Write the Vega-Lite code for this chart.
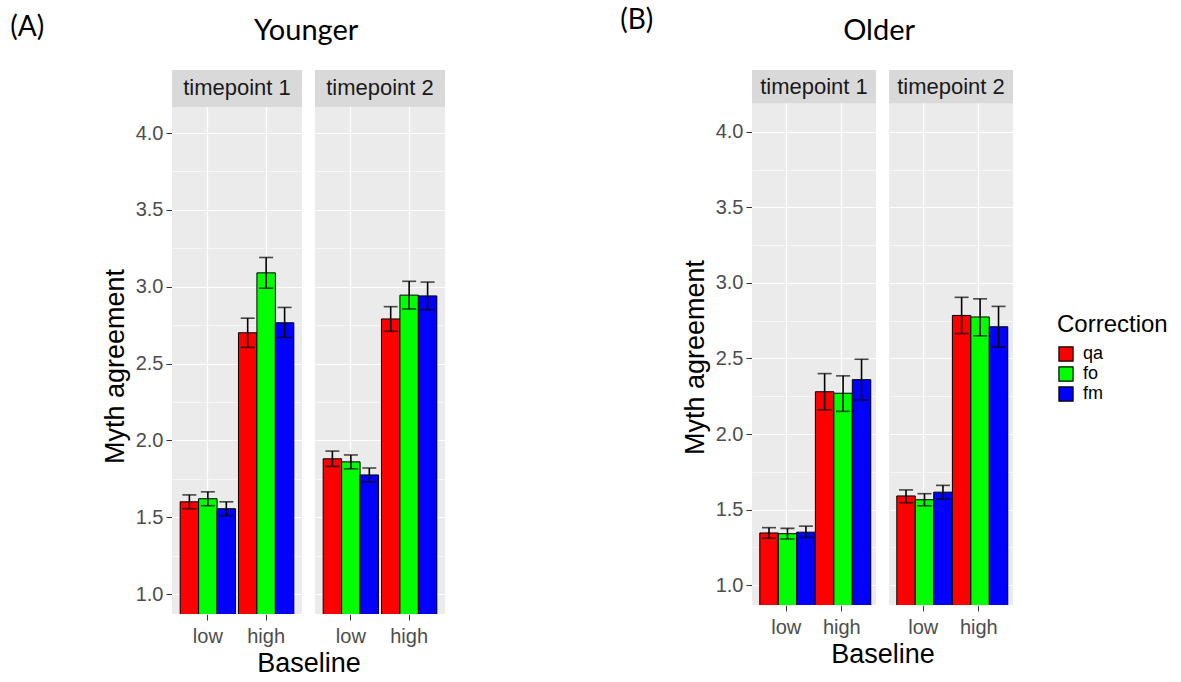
{
  "$schema": "https://vega.github.io/schema/vega-lite/v6.json",
  "config": {
    "font": "Liberation Sans",
    "view": {"fill": "#EBEBEB", "stroke": null},
    "concat": {"spacing": 175},
    "facet": {"spacing": 13}
  },
  "data": {"values": [
    {"age": "Younger", "timepoint": "timepoint 1", "Baseline": "low", "Correction": "qa", "mean": 1.60, "lo": 1.555, "hi": 1.645},
    {"age": "Younger", "timepoint": "timepoint 1", "Baseline": "low", "Correction": "fo", "mean": 1.62, "lo": 1.575, "hi": 1.665},
    {"age": "Younger", "timepoint": "timepoint 1", "Baseline": "low", "Correction": "fm", "mean": 1.555, "lo": 1.51, "hi": 1.60},
    {"age": "Younger", "timepoint": "timepoint 1", "Baseline": "high", "Correction": "qa", "mean": 2.70, "lo": 2.605, "hi": 2.795},
    {"age": "Younger", "timepoint": "timepoint 1", "Baseline": "high", "Correction": "fo", "mean": 3.09, "lo": 2.99, "hi": 3.19},
    {"age": "Younger", "timepoint": "timepoint 1", "Baseline": "high", "Correction": "fm", "mean": 2.765, "lo": 2.67, "hi": 2.865},
    {"age": "Younger", "timepoint": "timepoint 2", "Baseline": "low", "Correction": "qa", "mean": 1.88, "lo": 1.83, "hi": 1.93},
    {"age": "Younger", "timepoint": "timepoint 2", "Baseline": "low", "Correction": "fo", "mean": 1.86, "lo": 1.815, "hi": 1.905},
    {"age": "Younger", "timepoint": "timepoint 2", "Baseline": "low", "Correction": "fm", "mean": 1.775, "lo": 1.73, "hi": 1.82},
    {"age": "Younger", "timepoint": "timepoint 2", "Baseline": "high", "Correction": "qa", "mean": 2.79, "lo": 2.71, "hi": 2.87},
    {"age": "Younger", "timepoint": "timepoint 2", "Baseline": "high", "Correction": "fo", "mean": 2.945, "lo": 2.855, "hi": 3.035},
    {"age": "Younger", "timepoint": "timepoint 2", "Baseline": "high", "Correction": "fm", "mean": 2.94, "lo": 2.85, "hi": 3.03},
    {"age": "Older", "timepoint": "timepoint 1", "Baseline": "low", "Correction": "qa", "mean": 1.345, "lo": 1.31, "hi": 1.38},
    {"age": "Older", "timepoint": "timepoint 1", "Baseline": "low", "Correction": "fo", "mean": 1.34, "lo": 1.305, "hi": 1.375},
    {"age": "Older", "timepoint": "timepoint 1", "Baseline": "low", "Correction": "fm", "mean": 1.35, "lo": 1.315, "hi": 1.39},
    {"age": "Older", "timepoint": "timepoint 1", "Baseline": "high", "Correction": "qa", "mean": 2.28, "lo": 2.16, "hi": 2.40},
    {"age": "Older", "timepoint": "timepoint 1", "Baseline": "high", "Correction": "fo", "mean": 2.27, "lo": 2.15, "hi": 2.385},
    {"age": "Older", "timepoint": "timepoint 1", "Baseline": "high", "Correction": "fm", "mean": 2.36, "lo": 2.225, "hi": 2.495},
    {"age": "Older", "timepoint": "timepoint 2", "Baseline": "low", "Correction": "qa", "mean": 1.59, "lo": 1.545, "hi": 1.63},
    {"age": "Older", "timepoint": "timepoint 2", "Baseline": "low", "Correction": "fo", "mean": 1.565, "lo": 1.525, "hi": 1.605},
    {"age": "Older", "timepoint": "timepoint 2", "Baseline": "low", "Correction": "fm", "mean": 1.615, "lo": 1.57, "hi": 1.66},
    {"age": "Older", "timepoint": "timepoint 2", "Baseline": "high", "Correction": "qa", "mean": 2.785, "lo": 2.665, "hi": 2.905},
    {"age": "Older", "timepoint": "timepoint 2", "Baseline": "high", "Correction": "fo", "mean": 2.775, "lo": 2.65, "hi": 2.895},
    {"age": "Older", "timepoint": "timepoint 2", "Baseline": "high", "Correction": "fm", "mean": 2.71, "lo": 2.575, "hi": 2.845}
  ]},
  "hconcat": [
    {
      "title": {"text": "(A)", "anchor": "start", "frame": "bounds", "font": "Lato", "fontSize": 28, "fontWeight": "normal", "color": "black", "dx": -91, "dy": 25, "offset": 0},
      "vconcat": [
        {
          "title": {"text": "Younger", "anchor": "middle", "frame": "bounds", "font": "Lato", "fontSize": 29, "fontWeight": "normal", "color": "black", "offset": 24, "dx": 33},
          "transform": [{"filter": "datum.age == 'Younger'"}],
          "facet": {"column": {"field": "timepoint", "type": "nominal", "header": {"title": "Baseline", "titleOrient": "bottom", "labels": false, "titleFontSize": 27, "titleFontWeight": "normal", "titleColor": "black", "titlePadding": -5}}},
          "spec": {
            "width": 130,
            "height": 544,
            "layer": [
              {
                "transform": [{"filter": "datum.Baseline == 'low' && datum.Correction == 'qa'"}],
                "mark": {"type": "rect", "color": "#D9D9D9"},
                "encoding": {
                  "y": {"datum": 4.17, "type": "quantitative", "scale": {"domain": [0.87, 4.41], "nice": false, "zero": false}, "title": "Myth agreement"},
                  "y2": {"datum": 4.41}
                }
              },
              {
                "transform": [{"filter": "datum.Baseline == 'low' && datum.Correction == 'qa'"}],
                "mark": {"type": "text", "fontSize": 22, "color": "#1A1A1A"},
                "encoding": {
                  "y": {"datum": 4.29, "type": "quantitative", "title": "Myth agreement"},
                  "text": {"field": "timepoint"}
                }
              },
              {
                "mark": {"type": "bar", "stroke": "black", "strokeWidth": 1, "clip": true},
                "encoding": {
                  "x": {"field": "Baseline", "type": "nominal", "sort": ["low", "high"], "scale": {"paddingInner": 0.05, "paddingOuter": 0.14},
                    "axis": {"bandPosition": 0.5, "grid": true, "gridColor": "white", "gridWidth": 1.2, "domain": false, "tickColor": "#333333", "tickSize": 6, "labelAngle": 0, "labelFontSize": 20, "labelColor": "#4D4D4D", "labelPadding": 6, "title": null}},
                  "xOffset": {"field": "Correction", "type": "nominal", "sort": ["qa", "fo", "fm"], "scale": {"paddingInner": 0, "paddingOuter": 0}},
                  "y": {"field": "mean", "type": "quantitative", "title": "Myth agreement",
                    "axis": {"values": [1, 1.25, 1.5, 1.75, 2, 2.25, 2.5, 2.75, 3, 3.25, 3.5, 3.75, 4],
                      "labelExpr": "datum.value % 0.5 == 0 ? format(datum.value, '.1f') : ''",
                      "grid": true, "gridColor": "white",
                      "gridWidth": {"condition": {"test": "datum.value % 0.5 != 0", "value": 0.6}, "value": 1.2},
                      "tickOpacity": {"condition": {"test": "datum.value % 0.5 != 0", "value": 0}, "value": 1},
                      "domain": false, "tickColor": "#333333", "tickSize": 6, "labelFontSize": 20, "labelColor": "#4D4D4D", "labelPadding": 3,
                      "titleFontSize": 27, "titleFontWeight": "normal", "titleColor": "black", "titlePadding": 6, "titleY": 296}},
                  "color": {"field": "Correction", "type": "nominal", "sort": ["qa", "fo", "fm"],
                    "scale": {"domain": ["qa", "fo", "fm"], "range": ["#FF0000", "#00FF00", "#0000FF"]},
                    "legend": {"title": "Correction", "orient": "none", "legendX": 885, "legendY": 243, "titleFontSize": 24, "titleFontWeight": "normal", "titleColor": "black", "titlePadding": 8, "labelFontSize": 18, "labelColor": "black", "symbolType": "square", "symbolSize": 200, "symbolStrokeColor": "black", "symbolStrokeWidth": 1.2, "symbolOpacity": 1, "rowPadding": 0, "labelOffset": 8}}
                }
              },
              {
                "mark": {"type": "rule", "color": "black", "strokeWidth": 1.6},
                "encoding": {
                  "x": {"field": "Baseline", "type": "nominal", "sort": ["low", "high"]},
                  "xOffset": {"field": "Correction", "type": "nominal", "sort": ["qa", "fo", "fm"]},
                  "y": {"field": "lo", "type": "quantitative", "title": "Myth agreement"},
                  "y2": {"field": "hi"}
                }
              },
              {
                "mark": {"type": "tick", "color": "black", "thickness": 1.6, "size": 14},
                "encoding": {
                  "x": {"field": "Baseline", "type": "nominal", "sort": ["low", "high"]},
                  "xOffset": {"field": "Correction", "type": "nominal", "sort": ["qa", "fo", "fm"]},
                  "y": {"field": "lo", "type": "quantitative", "title": "Myth agreement"}
                }
              },
              {
                "mark": {"type": "tick", "color": "black", "thickness": 1.6, "size": 14},
                "encoding": {
                  "x": {"field": "Baseline", "type": "nominal", "sort": ["low", "high"]},
                  "xOffset": {"field": "Correction", "type": "nominal", "sort": ["qa", "fo", "fm"]},
                  "y": {"field": "hi", "type": "quantitative", "title": "Myth agreement"}
                }
              }
            ]
          }
        }
      ]
    },
    {
      "title": {"text": "(B)", "anchor": "start", "frame": "bounds", "font": "Lato", "fontSize": 28, "fontWeight": "normal", "color": "black", "dx": -61, "dy": 18, "offset": 0},
      "vconcat": [
        {
          "title": {"text": "Older", "anchor": "middle", "frame": "bounds", "font": "Lato", "fontSize": 29, "fontWeight": "normal", "color": "black", "offset": 24, "dx": 32},
          "transform": [{"filter": "datum.age == 'Older'"}],
          "facet": {"column": {"field": "timepoint", "type": "nominal", "header": {"title": "Baseline", "titleOrient": "bottom", "labels": false, "titleFontSize": 27, "titleFontWeight": "normal", "titleColor": "black", "titlePadding": -5}}},
          "spec": {
            "width": 124,
            "height": 535,
            "layer": [
              {
                "transform": [{"filter": "datum.Baseline == 'low' && datum.Correction == 'qa'"}],
                "mark": {"type": "rect", "color": "#D9D9D9"},
                "encoding": {
                  "y": {"datum": 4.19, "type": "quantitative", "scale": {"domain": [0.868, 4.41], "nice": false, "zero": false}, "title": "Myth agreement"},
                  "y2": {"datum": 4.41}
                }
              },
              {
                "transform": [{"filter": "datum.Baseline == 'low' && datum.Correction == 'qa'"}],
                "mark": {"type": "text", "fontSize": 22, "color": "#1A1A1A"},
                "encoding": {
                  "y": {"datum": 4.30, "type": "quantitative", "title": "Myth agreement"},
                  "text": {"field": "timepoint"}
                }
              },
              {
                "mark": {"type": "bar", "stroke": "black", "strokeWidth": 1, "clip": true},
                "encoding": {
                  "x": {"field": "Baseline", "type": "nominal", "sort": ["low", "high"], "scale": {"paddingInner": 0.05, "paddingOuter": 0.14},
                    "axis": {"bandPosition": 0.5, "grid": true, "gridColor": "white", "gridWidth": 1.2, "domain": false, "tickColor": "#333333", "tickSize": 6, "labelAngle": 0, "labelFontSize": 20, "labelColor": "#4D4D4D", "labelPadding": 6, "title": null}},
                  "xOffset": {"field": "Correction", "type": "nominal", "sort": ["qa", "fo", "fm"], "scale": {"paddingInner": 0, "paddingOuter": 0}},
                  "y": {"field": "mean", "type": "quantitative", "title": "Myth agreement",
                    "axis": {"values": [1, 1.25, 1.5, 1.75, 2, 2.25, 2.5, 2.75, 3, 3.25, 3.5, 3.75, 4],
                      "labelExpr": "datum.value % 0.5 == 0 ? format(datum.value, '.1f') : ''",
                      "grid": true, "gridColor": "white",
                      "gridWidth": {"condition": {"test": "datum.value % 0.5 != 0", "value": 0.6}, "value": 1.2},
                      "tickOpacity": {"condition": {"test": "datum.value % 0.5 != 0", "value": 0}, "value": 1},
                      "domain": false, "tickColor": "#333333", "tickSize": 6, "labelFontSize": 20, "labelColor": "#4D4D4D", "labelPadding": 3,
                      "titleFontSize": 27, "titleFontWeight": "normal", "titleColor": "black", "titlePadding": 6, "titleY": 287}},
                  "color": {"field": "Correction", "type": "nominal", "sort": ["qa", "fo", "fm"],
                    "scale": {"domain": ["qa", "fo", "fm"], "range": ["#FF0000", "#00FF00", "#0000FF"]},
                    "legend": {"title": "Correction", "orient": "none", "legendX": 885, "legendY": 243, "titleFontSize": 24, "titleFontWeight": "normal", "titleColor": "black", "titlePadding": 8, "labelFontSize": 18, "labelColor": "black", "symbolType": "square", "symbolSize": 200, "symbolStrokeColor": "black", "symbolStrokeWidth": 1.2, "symbolOpacity": 1, "rowPadding": 0, "labelOffset": 8}}
                }
              },
              {
                "mark": {"type": "rule", "color": "black", "strokeWidth": 1.6},
                "encoding": {
                  "x": {"field": "Baseline", "type": "nominal", "sort": ["low", "high"]},
                  "xOffset": {"field": "Correction", "type": "nominal", "sort": ["qa", "fo", "fm"]},
                  "y": {"field": "lo", "type": "quantitative", "title": "Myth agreement"},
                  "y2": {"field": "hi"}
                }
              },
              {
                "mark": {"type": "tick", "color": "black", "thickness": 1.6, "size": 14},
                "encoding": {
                  "x": {"field": "Baseline", "type": "nominal", "sort": ["low", "high"]},
                  "xOffset": {"field": "Correction", "type": "nominal", "sort": ["qa", "fo", "fm"]},
                  "y": {"field": "lo", "type": "quantitative", "title": "Myth agreement"}
                }
              },
              {
                "mark": {"type": "tick", "color": "black", "thickness": 1.6, "size": 14},
                "encoding": {
                  "x": {"field": "Baseline", "type": "nominal", "sort": ["low", "high"]},
                  "xOffset": {"field": "Correction", "type": "nominal", "sort": ["qa", "fo", "fm"]},
                  "y": {"field": "hi", "type": "quantitative", "title": "Myth agreement"}
                }
              }
            ]
          }
        }
      ]
    }
  ],
  "padding": {"left": 10, "top": 7, "right": 5, "bottom": 5}
}
